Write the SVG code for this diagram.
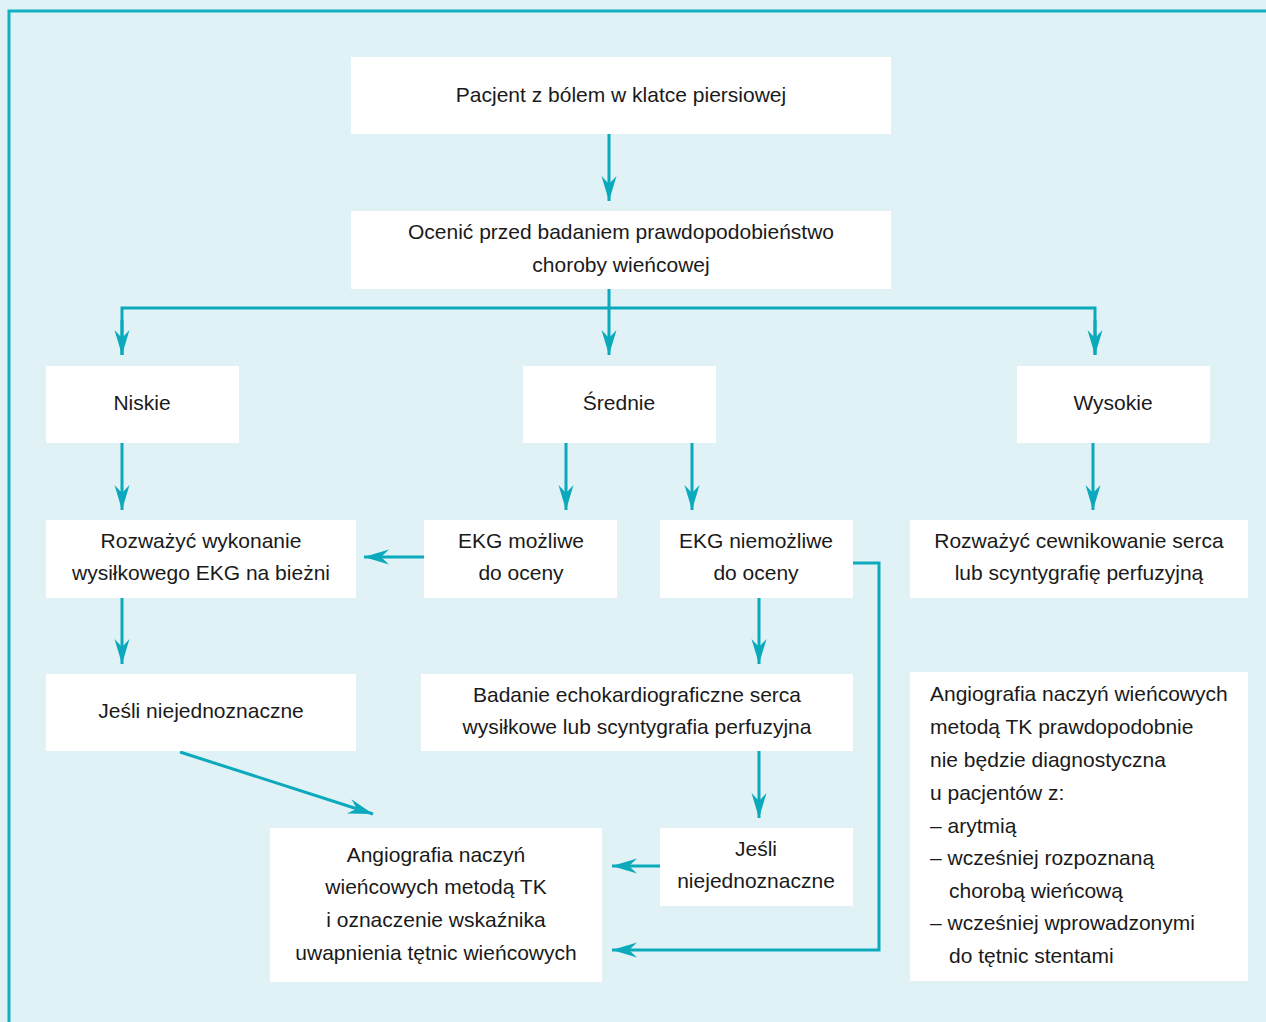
<svg xmlns="http://www.w3.org/2000/svg" width="1266" height="1022" viewBox="0 0 1266 1022">
<style>
.bg{fill:#e0f2f5}
.frame{fill:none;stroke:#12b0c2;stroke-width:3}
.box{fill:#ffffff}
.t{font-family:"Liberation Sans",Arial,sans-serif;font-size:21px;fill:#1a1a1a;text-anchor:middle}
.tl{font-family:"Liberation Sans",Arial,sans-serif;font-size:21px;fill:#1a1a1a}
.c{fill:none;stroke:#0aa9bc;stroke-width:3}
</style>
<defs>
<marker id="ah" markerUnits="userSpaceOnUse" viewBox="-26 -8 28 16" refX="0" refY="0" markerWidth="28" markerHeight="16" orient="auto">
<path d="M0,0 L-25,-7.5 L-17,0 L-25,7.5 Z" fill="#0aa9bc"/>
</marker>
</defs>
<rect class="bg" x="0" y="0" width="1266" height="1022"/>
<rect class="frame" x="9" y="11" width="1300" height="1100"/>

<g id="connectors">
<path class="c" d="M609,134 V201" marker-end="url(#ah)"/>
<path class="c" d="M609,289 V355" marker-end="url(#ah)"/>
<path class="c" d="M122,355 V308 H1095 V355" />
<path class="c" d="M122,320 V355" marker-end="url(#ah)"/>
<path class="c" d="M1095,320 V355" marker-end="url(#ah)"/>
<path class="c" d="M122,443 V510" marker-end="url(#ah)"/>
<path class="c" d="M566,443 V510" marker-end="url(#ah)"/>
<path class="c" d="M692,443 V510" marker-end="url(#ah)"/>
<path class="c" d="M1093,443 V510" marker-end="url(#ah)"/>
<path class="c" d="M424,557 H364" marker-end="url(#ah)"/>
<path class="c" d="M122,598 V664" marker-end="url(#ah)"/>
<path class="c" d="M759,598 V664" marker-end="url(#ah)"/>
<path class="c" d="M759,751 V818" marker-end="url(#ah)"/>
<path class="c" d="M660,866 H612" marker-end="url(#ah)"/>
<path class="c" d="M853,563 H879 V950 H612" marker-end="url(#ah)"/>
<path class="c" d="M180,752 L373,814" marker-end="url(#ah)"/>
</g>

<g id="n1"><rect class="box" x="351" y="57" width="540" height="77"/>
<text class="t" x="621" y="102">Pacjent z bólem w klatce piersiowej</text></g>
<g id="n2"><rect class="box" x="351" y="211" width="540" height="78"/>
<text class="t" x="621" y="239">Ocenić przed badaniem prawdopodobieństwo</text>
<text class="t" x="621" y="272">choroby wieńcowej</text></g>
<g id="n3"><rect class="box" x="46" y="366" width="193" height="77"/>
<text class="t" x="142" y="410">Niskie</text></g>
<g id="n4"><rect class="box" x="523" y="366" width="193" height="77"/>
<text class="t" x="619" y="410">Średnie</text></g>
<g id="n5"><rect class="box" x="1017" y="366" width="193" height="77"/>
<text class="t" x="1113" y="410">Wysokie</text></g>
<g id="n6"><rect class="box" x="46" y="520" width="310" height="78"/>
<text class="t" x="201" y="548">Rozważyć wykonanie</text>
<text class="t" x="201" y="580">wysiłkowego EKG na bieżni</text></g>
<g id="n7"><rect class="box" x="424" y="520" width="193" height="78"/>
<text class="t" x="521" y="548">EKG możliwe</text>
<text class="t" x="521" y="580">do oceny</text></g>
<g id="n8"><rect class="box" x="660" y="520" width="193" height="78"/>
<text class="t" x="756" y="548">EKG niemożliwe</text>
<text class="t" x="756" y="580">do oceny</text></g>
<g id="n9"><rect class="box" x="910" y="520" width="338" height="78"/>
<text class="t" x="1079" y="548">Rozważyć cewnikowanie serca</text>
<text class="t" x="1079" y="580">lub scyntygrafię perfuzyjną</text></g>
<g id="n10"><rect class="box" x="46" y="674" width="310" height="77"/>
<text class="t" x="201" y="718">Jeśli niejednoznaczne</text></g>
<g id="n11"><rect class="box" x="421" y="674" width="432" height="77"/>
<text class="t" x="637" y="702">Badanie echokardiograficzne serca</text>
<text class="t" x="637" y="734">wysiłkowe lub scyntygrafia perfuzyjna</text></g>
<g id="n12"><rect class="box" x="270" y="828" width="332" height="154"/>
<text class="t" x="436" y="862">Angiografia naczyń</text>
<text class="t" x="436" y="894">wieńcowych metodą TK</text>
<text class="t" x="436" y="927">i oznaczenie wskaźnika</text>
<text class="t" x="436" y="960">uwapnienia tętnic wieńcowych</text></g>
<g id="n13"><rect class="box" x="660" y="828" width="193" height="78"/>
<text class="t" x="756" y="856">Jeśli</text>
<text class="t" x="756" y="888">niejednoznaczne</text></g>
<g id="n14"><rect class="box" x="910" y="672" width="338" height="309"/>
<text class="tl" x="930" y="701">Angiografia naczyń wieńcowych</text>
<text class="tl" x="930" y="734">metodą TK prawdopodobnie</text>
<text class="tl" x="930" y="767">nie będzie diagnostyczna</text>
<text class="tl" x="930" y="800">u pacjentów z:</text>
<text class="tl" x="930" y="833">– arytmią</text>
<text class="tl" x="930" y="865">– wcześniej rozpoznaną</text>
<text class="tl" x="949" y="898">chorobą wieńcową</text>
<text class="tl" x="930" y="930">– wcześniej wprowadzonymi</text>
<text class="tl" x="949" y="963">do tętnic stentami</text></g>
</svg>
